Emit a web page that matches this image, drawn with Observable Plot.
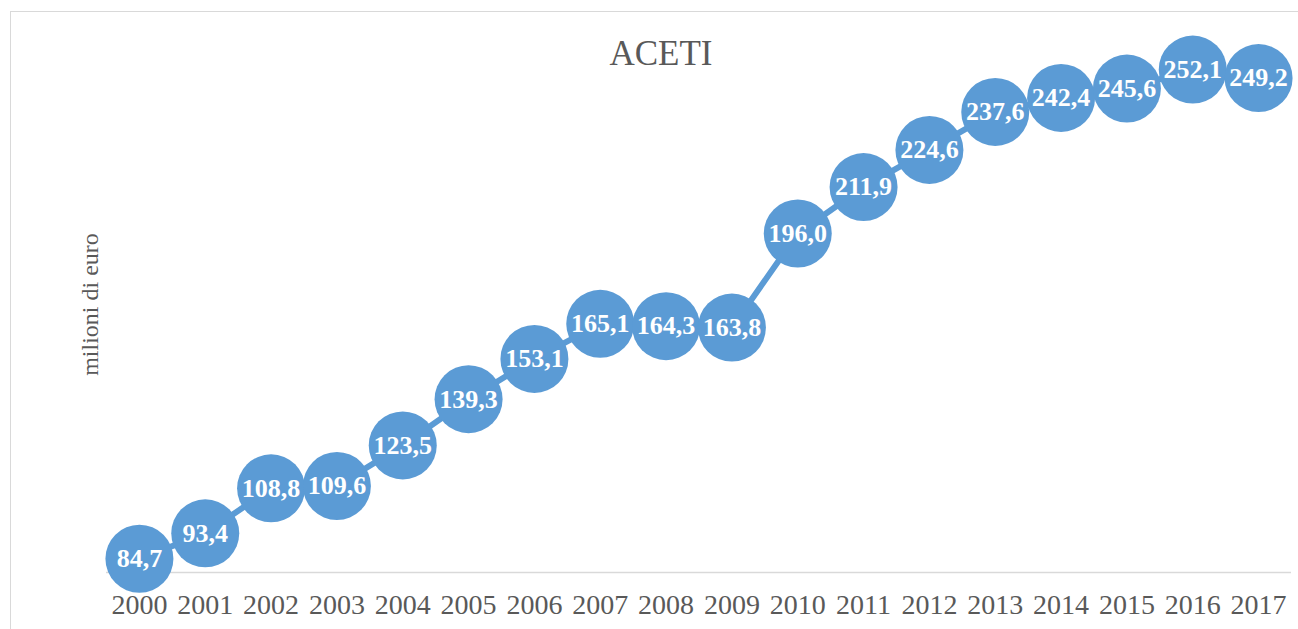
<!DOCTYPE html>
<html>
<head>
<meta charset="utf-8">
<script src="https://cdn.jsdelivr.net/npm/d3@7"></script>
<script src="https://cdn.jsdelivr.net/npm/@observablehq/plot@0.6"></script>
<style>
  html, body { margin: 0; padding: 0; background: #fff; overflow: hidden; }
  #wrap { position: relative; width: 1298px; height: 629px; }
  #frame { position: absolute; left: 10px; top: 11px; width: 1400px; height: 700px;
           border: 1.5px solid #d9d9d9; box-sizing: border-box; }
  #chart { position: absolute; left: 0; top: 0; }
</style>
</head>
<body>
<div id="wrap"><div id="frame"></div><div id="chart"></div></div>
<script>
const years = [2000,2001,2002,2003,2004,2005,2006,2007,2008,2009,2010,2011,2012,2013,2014,2015,2016,2017];
const values = [84.7,93.4,108.8,109.6,123.5,139.3,153.1,165.1,164.3,163.8,196.0,211.9,224.6,237.6,242.4,245.6,252.1,249.2];
const title = "ACETI";
const yLabel = "milioni di euro";

const data = years.map((y, i) => ({year: String(y), value: values[i]}));
const fmt = v => v.toFixed(1).replace(".", ",");
const blue = "#5B9BD5";
const serif = "Liberation Serif, DejaVu Serif, serif";

const chart = Plot.plot({
  width: 1298,
  height: 629,
  marginLeft: 106,
  marginRight: 7,
  marginTop: 46,
  marginBottom: 57,
  style: {fontFamily: serif, background: "transparent"},
  x: {type: "band", domain: years.map(String), padding: 0, round: false, label: null},
  y: {domain: [80, 260], axis: null},
  marks: [
    Plot.ruleY([80], {stroke: "#d9d9d9", strokeWidth: 1.5}),
    Plot.axisX({tickSize: 0, tickPadding: 22, fontSize: 28, fill: "#595959", label: null}),
    Plot.line(data, {x: "year", y: "value", stroke: blue, strokeWidth: 6}),
    Plot.dot(data, {x: "year", y: "value", r: 34, fill: blue, stroke: null}),
    Plot.text(data, {x: "year", y: "value", text: d => fmt(d.value), fill: "white",
      fontSize: 26, fontWeight: "bold", fontFamily: serif}),
    Plot.text([title], {frameAnchor: "top", dx: -38, dy: -6, fontSize: 35, fill: "#595959",
      lineAnchor: "top", fontFamily: serif}),
    Plot.text([yLabel], {frameAnchor: "left", dx: -16, dy: -5, rotate: -90, textAnchor: "middle",
      fontSize: 24, fill: "#595959", fontFamily: serif})
  ]
});
document.getElementById("chart").appendChild(chart);
</script>
</body>
</html>
